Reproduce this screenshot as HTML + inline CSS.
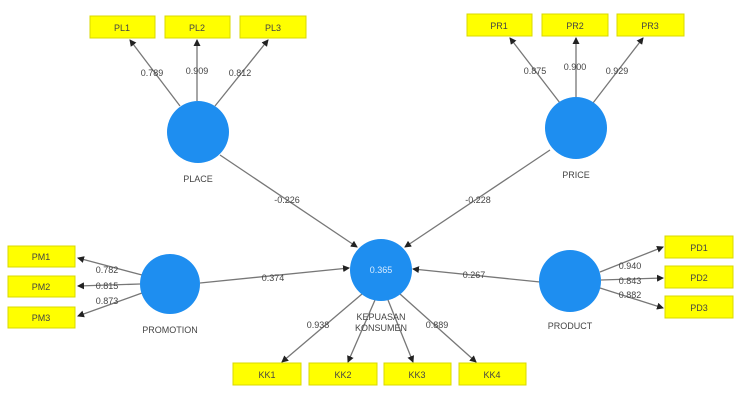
<!DOCTYPE html>
<html><head><meta charset="utf-8"><style>
html,body{margin:0;padding:0;background:#fff;}
svg{display:block;}
text{font-family:"Liberation Sans",sans-serif;fill:#444;}
</style></head><body>
<svg width="740" height="405" viewBox="0 0 740 405" xmlns="http://www.w3.org/2000/svg">
<defs><marker id="a" markerWidth="7" markerHeight="7" refX="6" refY="3.5" orient="auto" markerUnits="userSpaceOnUse"><path d="M0,0 L7,3.5 L0,7z" fill="#222"/></marker></defs>
<g stroke="#777" stroke-width="1.3" fill="none" marker-end="url(#a)">
<line x1="180" y1="106" x2="130" y2="40"/>
<line x1="197" y1="101" x2="197" y2="40"/>
<line x1="215" y1="106" x2="268" y2="40"/>
<line x1="560" y1="103" x2="510" y2="38"/>
<line x1="576" y1="97" x2="576" y2="38"/>
<line x1="593" y1="103" x2="643" y2="38"/>
<line x1="220" y1="155" x2="357" y2="247"/>
<line x1="550" y1="150" x2="405" y2="247"/>
<line x1="200" y1="283" x2="349" y2="268"/>
<line x1="540" y1="282" x2="413" y2="269"/>
<line x1="142" y1="275" x2="78" y2="258"/>
<line x1="140" y1="284" x2="78" y2="286"/>
<line x1="142" y1="293" x2="78" y2="316"/>
<line x1="600" y1="272" x2="663" y2="247"/>
<line x1="601" y1="280" x2="663" y2="278"/>
<line x1="600" y1="288" x2="663" y2="308"/>
<line x1="362" y1="294" x2="282" y2="362"/>
<line x1="375" y1="300" x2="348" y2="362"/>
<line x1="388" y1="300" x2="413" y2="362"/>
<line x1="400" y1="294" x2="476" y2="362"/>
</g>
<g fill="#1e8ef0">
<circle cx="198" cy="132" r="31"/><circle cx="576" cy="128" r="31"/>
<circle cx="381" cy="270" r="31"/><circle cx="170" cy="284" r="30"/><circle cx="570" cy="281" r="31"/>
</g>
<g fill="#ffff00" stroke="#d8d800" stroke-width="1">
<rect x="90" y="16" width="65" height="22"/><rect x="165" y="16" width="65" height="22"/><rect x="240" y="16" width="66" height="22"/>
<rect x="467" y="14" width="65" height="22"/><rect x="542" y="14" width="66" height="22"/><rect x="617" y="14" width="67" height="22"/>
<rect x="8" y="246" width="67" height="21"/><rect x="8" y="276" width="67" height="21"/><rect x="8" y="307" width="67" height="21"/>
<rect x="665" y="236" width="68" height="22"/><rect x="665" y="266" width="68" height="22"/><rect x="665" y="296" width="68" height="22"/>
<rect x="233" y="363" width="68" height="22"/><rect x="309" y="363" width="68" height="22"/><rect x="384" y="363" width="67" height="22"/><rect x="459" y="363" width="67" height="22"/>
</g>
<g font-size="9" text-anchor="middle">
<text x="122" y="31">PL1</text><text x="197" y="31">PL2</text><text x="273" y="31">PL3</text>
<text x="499" y="29">PR1</text><text x="575" y="29">PR2</text><text x="650" y="29">PR3</text>
<text x="41" y="260">PM1</text><text x="41" y="290">PM2</text><text x="41" y="321">PM3</text>
<text x="699" y="251">PD1</text><text x="699" y="281">PD2</text><text x="699" y="311">PD3</text>
<text x="267" y="378">KK1</text><text x="343" y="378">KK2</text><text x="417" y="378">KK3</text><text x="492" y="378">KK4</text>
<text x="198" y="182">PLACE</text><text x="576" y="178">PRICE</text>
<text x="170" y="333">PROMOTION</text><text x="570" y="329">PRODUCT</text>
<text x="381" y="320">KEPUASAN</text><text x="381" y="331">KONSUMEN</text>
<text x="381" y="273" fill="#cfe6ff" style="fill:#d8ecff">0.365</text>
</g>
<g font-size="9" text-anchor="middle">
<text x="152" y="76">0.789</text><text x="197" y="74">0.909</text><text x="240" y="76">0.812</text>
<text x="535" y="74">0.875</text><text x="575" y="70">0.900</text><text x="617" y="74">0.929</text>
<text x="287" y="203">-0.226</text><text x="478" y="203">-0.228</text>
<text x="273" y="281">0.374</text><text x="474" y="278">0.267</text>
<text x="107" y="273">0.782</text><text x="107" y="289">0.815</text><text x="107" y="304">0.873</text>
<text x="630" y="269">0.940</text><text x="630" y="284">0.843</text><text x="630" y="298">0.882</text>
<text x="318" y="328">0.938</text><text x="437" y="328">0.889</text>
</g>
</svg>
</body></html>
